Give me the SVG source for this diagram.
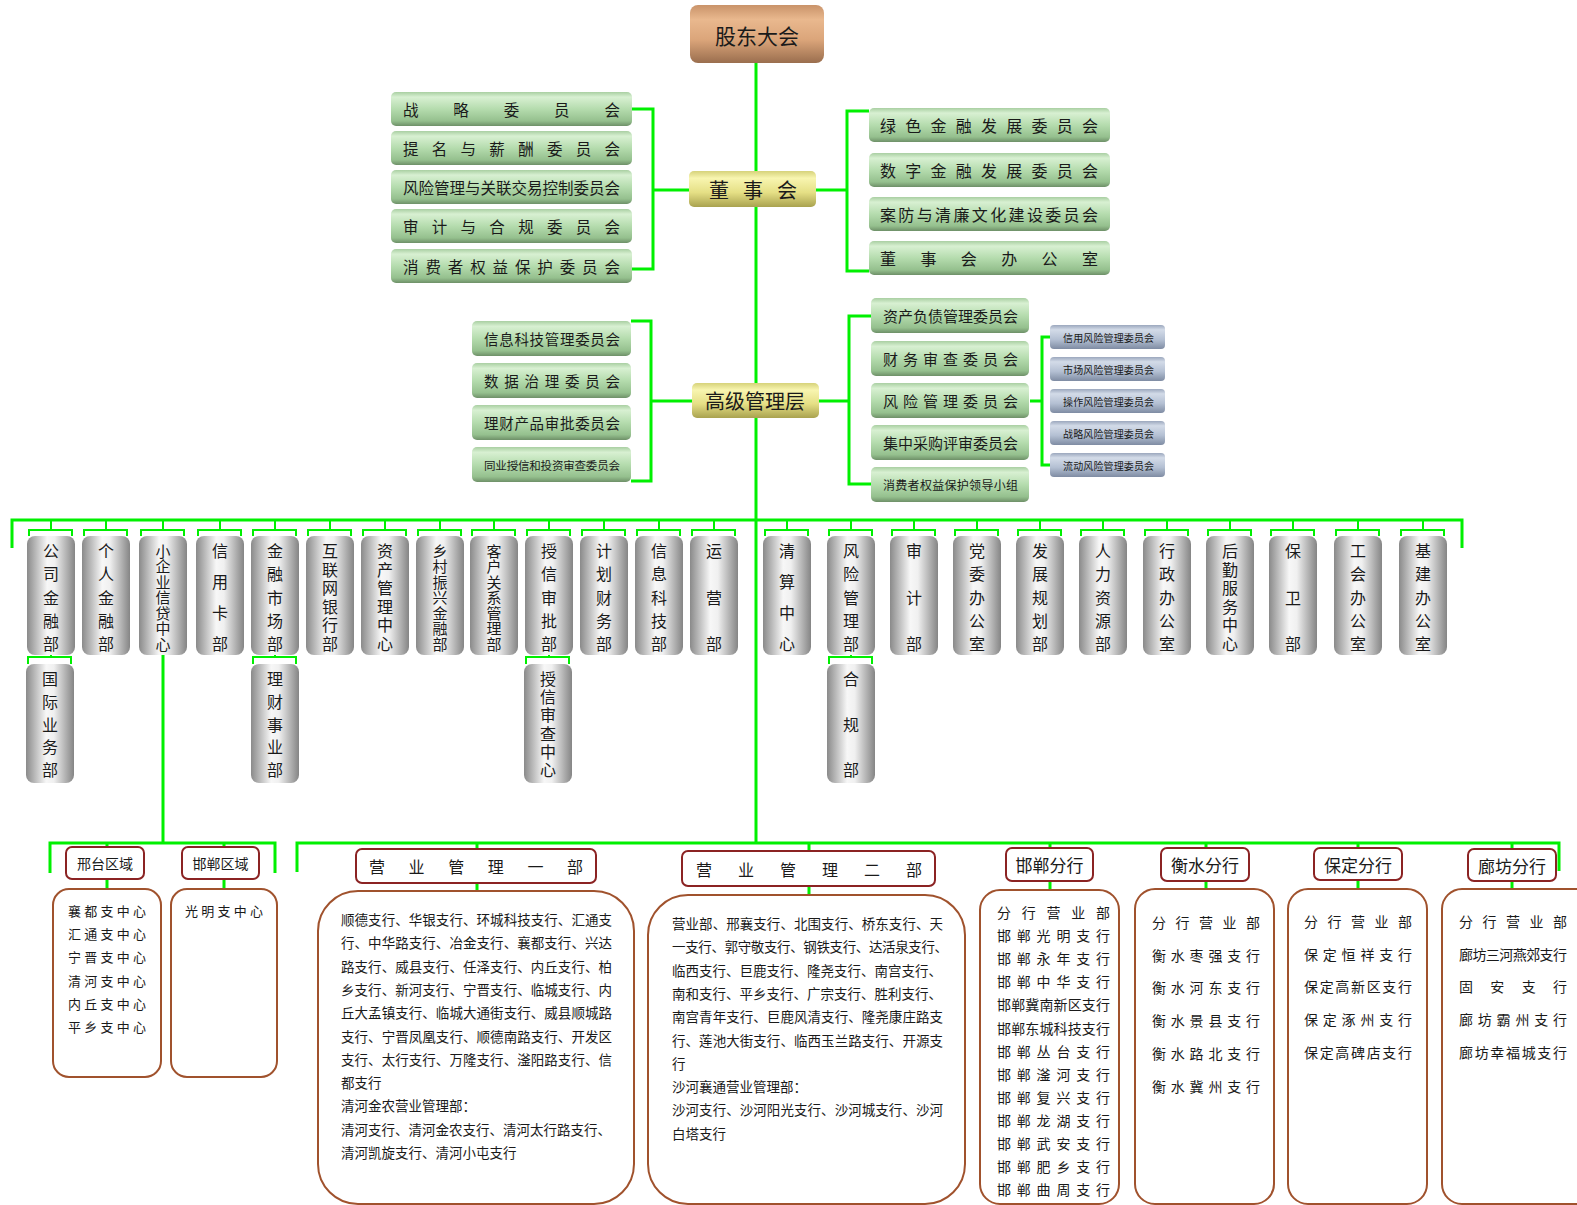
<svg xmlns="http://www.w3.org/2000/svg" width="1577" height="1205" viewBox="0 0 1577 1205">
<defs>
<linearGradient id="gG" x1="0" y1="0" x2="0" y2="1"><stop offset="0" stop-color="#a9cfa2"/><stop offset="0.15" stop-color="#d8f0d2"/><stop offset="0.5" stop-color="#b5dcae"/><stop offset="0.85" stop-color="#95c08e"/><stop offset="1" stop-color="#6e9068"/></linearGradient>
<linearGradient id="gY" x1="0" y1="0" x2="0" y2="1"><stop offset="0" stop-color="#d6d27a"/><stop offset="0.2" stop-color="#f8f5b0"/><stop offset="0.6" stop-color="#e5df85"/><stop offset="1" stop-color="#a9a24f"/></linearGradient>
<linearGradient id="gB" x1="0" y1="0" x2="0" y2="1"><stop offset="0" stop-color="#c9936a"/><stop offset="0.25" stop-color="#e9b88e"/><stop offset="0.6" stop-color="#dba57a"/><stop offset="1" stop-color="#9a6e4e"/></linearGradient>
<linearGradient id="gS" x1="0" y1="0" x2="0" y2="1"><stop offset="0" stop-color="#9ba7bd"/><stop offset="0.2" stop-color="#d3dbe8"/><stop offset="0.6" stop-color="#b4c0d3"/><stop offset="1" stop-color="#7f8ca3"/></linearGradient>
<linearGradient id="gD" x1="0" y1="0" x2="1" y2="0"><stop offset="0" stop-color="#8a8a8a"/><stop offset="0.42" stop-color="#f7f7f7"/><stop offset="0.58" stop-color="#f0f0f0"/><stop offset="1" stop-color="#858585"/></linearGradient>
</defs>
<style>
.ln{stroke:#00f000;stroke-width:3;fill:none}
.lt{stroke:#00f000;stroke-width:2;fill:none}
.t{font-family:"Noto Sans CJK SC","Noto Sans",sans-serif;fill:#1a1a1a;dominant-baseline:central}
.cg{fill:url(#gG)}
.cs{fill:url(#gS)}
.dp{fill:url(#gD)}
.dv{font-size:16px;text-anchor:middle}
.d7{font-size:15px}
.hd{fill:#fff;stroke:#8b2323;stroke-width:2}
.ct{fill:#fff;stroke:#a0522d;stroke-width:2}
.m{text-anchor:middle}
</style>
<g id="connectors">
<path class="ln" d="M756 63V843"/>
<path class="ln" d="M653 190H689M632 109H653V269H632M816 190H847M869 111H847V271H869"/>
<path class="ln" d="M651 401H692M631 321H651V481H631M819 401H849M871 316H849V484H871M1030 401H1042M1050 337H1042V465H1050"/>
<path class="ln" d="M12 548V520H1462V548"/>
<path class="lt" d="M51 520V530M29 536V530H72V536M106 520V530M84 536V530H127V536M163 520V530M141 536V530H184V536M220 520V530M198 536V530H241V536M275 520V530M253 536V530H296V536M330 520V530M308 536V530H351V536M385 520V530M363 536V530H406V536M440 520V530M418 536V530H461V536M494 520V530M472 536V530H515V536M549 520V530M527 536V530H570V536M604 520V530M582 536V530H625V536M659 520V530M637 536V530H680V536M714 520V530M692 536V530H735V536M787 520V530M765 536V530H808V536M851 520V530M829 536V530H872V536M914 520V530M892 536V530H935V536M977 520V530M955 536V530H998V536M1040 520V530M1018 536V530H1061V536M1103 520V530M1081 536V530H1124V536M1167 520V530M1145 536V530H1188V536M1230 520V530M1208 536V530H1251V536M1293 520V530M1271 536V530H1314V536M1358 520V530M1336 536V530H1379V536M1423 520V530M1401 536V530H1444V536"/>
<path class="lt" d="M51 655V657M28 664V657H71V664M275 655V657M253 664V657H296V664M549 655V657M526 664V657H569V664M851 655V657M829 664V657H872V664"/>
<path class="ln" d="M163 655V843M50 873V843H275V873M107 843V847M224 843V847M107 879V889M224 879V889"/>
<path class="ln" d="M297 872V843H1559V871M477 843V849M477 883V891M809 843V851M809 886V895M1050 843V848M1050 881V890M1206 843V848M1206 881V889M1358 843V848M1358 880V889M1512 843V849M1512 881V889"/>
</g>
<g id="n-gudong"><rect x="690" y="5" width="134" height="58" rx="8" fill="url(#gB)"/><text class="t m" x="757" y="35" font-size="21">股东大会</text></g>
<g id="n-dongshihui"><rect x="689" y="171" width="127" height="36" rx="5" fill="url(#gY)"/><text class="t" x="709" y="189" font-size="20" textLength="88" lengthAdjust="spacing">董事会</text></g>
<g id="n-gaoguan"><rect x="692" y="383" width="127" height="35" rx="5" fill="url(#gY)"/><text class="t m" x="755" y="400" font-size="20">高级管理层</text></g>
<g id="board-left" font-size="15.5">
<g id="c1"><rect class="cg" x="391" y="92" width="241" height="34" rx="5"/><text class="t" x="403" y="109" textLength="217" lengthAdjust="spacing">战略委员会</text></g>
<g id="c2"><rect class="cg" x="391" y="131" width="241" height="34" rx="5"/><text class="t" x="403" y="148" textLength="217" lengthAdjust="spacing">提名与薪酬委员会</text></g>
<g id="c3"><rect class="cg" x="391" y="170" width="241" height="34" rx="5"/><text class="t" x="403" y="187" textLength="217" lengthAdjust="spacing">风险管理与关联交易控制委员会</text></g>
<g id="c4"><rect class="cg" x="391" y="209" width="241" height="34" rx="5"/><text class="t" x="403" y="226" textLength="217" lengthAdjust="spacing">审计与合规委员会</text></g>
<g id="c5"><rect class="cg" x="391" y="249" width="241" height="34" rx="5"/><text class="t" x="403" y="266" textLength="217" lengthAdjust="spacing">消费者权益保护委员会</text></g>
</g>
<g id="board-right" font-size="16">
<g id="c6"><rect class="cg" x="869" y="108" width="241" height="34" rx="5"/><text class="t" x="880" y="125" textLength="218" lengthAdjust="spacing">绿色金融发展委员会</text></g>
<g id="c7"><rect class="cg" x="869" y="153" width="241" height="34" rx="5"/><text class="t" x="880" y="170" textLength="218" lengthAdjust="spacing">数字金融发展委员会</text></g>
<g id="c8"><rect class="cg" x="869" y="197" width="241" height="34" rx="5"/><text class="t" x="880" y="214" textLength="218" lengthAdjust="spacing">案防与清廉文化建设委员会</text></g>
<g id="c9"><rect class="cg" x="869" y="241" width="241" height="34" rx="5"/><text class="t" x="880" y="258" textLength="218" lengthAdjust="spacing">董事会办公室</text></g>
</g>
<g id="mgmt-left">
<g id="m1"><rect class="cg" x="472" y="321" width="159" height="35" rx="5"/><text class="t" x="484" y="338.5" font-size="14.5" textLength="136" lengthAdjust="spacing">信息科技管理委员会</text></g>
<g id="m2"><rect class="cg" x="472" y="363" width="159" height="35" rx="5"/><text class="t" x="484" y="380.5" font-size="14.5" textLength="136" lengthAdjust="spacing">数据治理委员会</text></g>
<g id="m3"><rect class="cg" x="472" y="405" width="159" height="35" rx="5"/><text class="t" x="484" y="422.5" font-size="14.5" textLength="136" lengthAdjust="spacing">理财产品审批委员会</text></g>
<g id="m4"><rect class="cg" x="472" y="447" width="159" height="35" rx="5"/><text class="t" x="484" y="464.5" font-size="11.5" textLength="136" lengthAdjust="spacing">同业授信和投资审查委员会</text></g>
</g>
<g id="mgmt-right">
<g id="m5"><rect class="cg" x="871" y="298" width="158" height="35" rx="5"/><text class="t" x="883" y="315.5" font-size="15" textLength="135" lengthAdjust="spacing">资产负债管理委员会</text></g>
<g id="m6"><rect class="cg" x="871" y="341" width="158" height="35" rx="5"/><text class="t" x="883" y="358.5" font-size="15" textLength="135" lengthAdjust="spacing">财务审查委员会</text></g>
<g id="m7"><rect class="cg" x="871" y="383" width="158" height="35" rx="5"/><text class="t" x="883" y="400.5" font-size="15" textLength="135" lengthAdjust="spacing">风险管理委员会</text></g>
<g id="m8"><rect class="cg" x="871" y="425" width="158" height="35" rx="5"/><text class="t" x="883" y="442.5" font-size="15" textLength="135" lengthAdjust="spacing">集中采购评审委员会</text></g>
<g id="m9"><rect class="cg" x="871" y="467" width="158" height="35" rx="5"/><text class="t" x="883" y="484.5" font-size="12" textLength="135" lengthAdjust="spacing">消费者权益保护领导小组</text></g>
</g>
<g id="risk-sub" font-size="10">
<g id="r1"><rect class="cs" x="1050" y="325" width="115" height="24" rx="4"/><text class="t" x="1063" y="337" textLength="91" lengthAdjust="spacing">信用风险管理委员会</text></g>
<g id="r2"><rect class="cs" x="1050" y="357" width="115" height="24" rx="4"/><text class="t" x="1063" y="369" textLength="91" lengthAdjust="spacing">市场风险管理委员会</text></g>
<g id="r3"><rect class="cs" x="1050" y="389" width="115" height="24" rx="4"/><text class="t" x="1063" y="401" textLength="91" lengthAdjust="spacing">操作风险管理委员会</text></g>
<g id="r4"><rect class="cs" x="1050" y="421" width="115" height="24" rx="4"/><text class="t" x="1063" y="433" textLength="91" lengthAdjust="spacing">战略风险管理委员会</text></g>
<g id="r5"><rect class="cs" x="1050" y="453" width="115" height="24" rx="4"/><text class="t" x="1063" y="465" textLength="91" lengthAdjust="spacing">流动风险管理委员会</text></g>
</g>
<g id="departments">
<g id="d1"><rect class="dp" x="27" y="536" width="48" height="119" rx="8"/><text class="t dv" x="51 51 51 51 51" y="550 573.25 596.5 619.75 643">公司金融部</text></g>
<g id="d2"><rect class="dp" x="82" y="536" width="48" height="119" rx="8"/><text class="t dv" x="106 106 106 106 106" y="550 573.25 596.5 619.75 643">个人金融部</text></g>
<g id="d3"><rect class="dp" x="139" y="536" width="48" height="119" rx="8"/><text class="t dv d7" x="163 163 163 163 163 163 163" y="550 565.5 581 596.5 612 627.5 643">小企业信贷中心</text></g>
<g id="d4"><rect class="dp" x="196" y="536" width="48" height="119" rx="8"/><text class="t dv" x="220 220 220 220" y="550 581 612 643">信用卡部</text></g>
<g id="d5"><rect class="dp" x="251" y="536" width="48" height="119" rx="8"/><text class="t dv" x="275 275 275 275 275" y="550 573.25 596.5 619.75 643">金融市场部</text></g>
<g id="d6"><rect class="dp" x="306" y="536" width="48" height="119" rx="8"/><text class="t dv" x="330 330 330 330 330 330" y="550 568.6 587.2 605.8 624.4 643">互联网银行部</text></g>
<g id="d7"><rect class="dp" x="361" y="536" width="48" height="119" rx="8"/><text class="t dv" x="385 385 385 385 385 385" y="550 568.6 587.2 605.8 624.4 643">资产管理中心</text></g>
<g id="d8"><rect class="dp" x="416" y="536" width="48" height="119" rx="8"/><text class="t dv d7" x="440 440 440 440 440 440 440" y="550 565.5 581 596.5 612 627.5 643">乡村振兴金融部</text></g>
<g id="d9"><rect class="dp" x="470" y="536" width="48" height="119" rx="8"/><text class="t dv d7" x="494 494 494 494 494 494 494" y="550 565.5 581 596.5 612 627.5 643">客户关系管理部</text></g>
<g id="d10"><rect class="dp" x="525" y="536" width="48" height="119" rx="8"/><text class="t dv" x="549 549 549 549 549" y="550 573.25 596.5 619.75 643">授信审批部</text></g>
<g id="d11"><rect class="dp" x="580" y="536" width="48" height="119" rx="8"/><text class="t dv" x="604 604 604 604 604" y="550 573.25 596.5 619.75 643">计划财务部</text></g>
<g id="d12"><rect class="dp" x="635" y="536" width="48" height="119" rx="8"/><text class="t dv" x="659 659 659 659 659" y="550 573.25 596.5 619.75 643">信息科技部</text></g>
<g id="d13"><rect class="dp" x="690" y="536" width="48" height="119" rx="8"/><text class="t dv" x="714 714 714" y="550 596.5 643">运营部</text></g>
<g id="d14"><rect class="dp" x="763" y="536" width="48" height="119" rx="8"/><text class="t dv" x="787 787 787 787" y="550 581 612 643">清算中心</text></g>
<g id="d15"><rect class="dp" x="827" y="536" width="48" height="119" rx="8"/><text class="t dv" x="851 851 851 851 851" y="550 573.25 596.5 619.75 643">风险管理部</text></g>
<g id="d16"><rect class="dp" x="890" y="536" width="48" height="119" rx="8"/><text class="t dv" x="914 914 914" y="550 596.5 643">审计部</text></g>
<g id="d17"><rect class="dp" x="953" y="536" width="48" height="119" rx="8"/><text class="t dv" x="977 977 977 977 977" y="550 573.25 596.5 619.75 643">党委办公室</text></g>
<g id="d18"><rect class="dp" x="1016" y="536" width="48" height="119" rx="8"/><text class="t dv" x="1040 1040 1040 1040 1040" y="550 573.25 596.5 619.75 643">发展规划部</text></g>
<g id="d19"><rect class="dp" x="1079" y="536" width="48" height="119" rx="8"/><text class="t dv" x="1103 1103 1103 1103 1103" y="550 573.25 596.5 619.75 643">人力资源部</text></g>
<g id="d20"><rect class="dp" x="1143" y="536" width="48" height="119" rx="8"/><text class="t dv" x="1167 1167 1167 1167 1167" y="550 573.25 596.5 619.75 643">行政办公室</text></g>
<g id="d21"><rect class="dp" x="1206" y="536" width="48" height="119" rx="8"/><text class="t dv" x="1230 1230 1230 1230 1230 1230" y="550 568.6 587.2 605.8 624.4 643">后勤服务中心</text></g>
<g id="d22"><rect class="dp" x="1269" y="536" width="48" height="119" rx="8"/><text class="t dv" x="1293 1293 1293" y="550 596.5 643">保卫部</text></g>
<g id="d23"><rect class="dp" x="1334" y="536" width="48" height="119" rx="8"/><text class="t dv" x="1358 1358 1358 1358 1358" y="550 573.25 596.5 619.75 643">工会办公室</text></g>
<g id="d24"><rect class="dp" x="1399" y="536" width="48" height="119" rx="8"/><text class="t dv" x="1423 1423 1423 1423 1423" y="550 573.25 596.5 619.75 643">基建办公室</text></g>
<g id="s1"><rect class="dp" x="26" y="664" width="48" height="119" rx="8"/><text class="t dv" x="50 50 50 50 50" y="678 700.75 723.5 746.25 769">国际业务部</text></g>
<g id="s2"><rect class="dp" x="251" y="664" width="48" height="119" rx="8"/><text class="t dv" x="275 275 275 275 275" y="678 700.75 723.5 746.25 769">理财事业部</text></g>
<g id="s3"><rect class="dp" x="524" y="664" width="48" height="119" rx="8"/><text class="t dv" x="548 548 548 548 548 548" y="678 696.2 714.4 732.6 750.8 769">授信审查中心</text></g>
<g id="s4"><rect class="dp" x="827" y="664" width="48" height="119" rx="8"/><text class="t dv" x="851 851 851" y="678 723.5 769">合规部</text></g>
</g>
<g id="xingtai">
<rect class="hd" x="66" y="847" width="78" height="32" rx="6"/><text class="t m" x="105" y="863" font-size="14">邢台区域</text>
<rect class="ct" x="53" y="889" width="108" height="188" rx="16"/>
<g font-size="13"><text class="t" x="68" y="910" textLength="78" lengthAdjust="spacing">襄都支中心</text><text class="t" x="68" y="933" textLength="78" lengthAdjust="spacing">汇通支中心</text><text class="t" x="68" y="956" textLength="78" lengthAdjust="spacing">宁晋支中心</text><text class="t" x="68" y="980" textLength="78" lengthAdjust="spacing">清河支中心</text><text class="t" x="68" y="1003" textLength="78" lengthAdjust="spacing">内丘支中心</text><text class="t" x="68" y="1026" textLength="78" lengthAdjust="spacing">平乡支中心</text></g>
</g>
<g id="handan-area">
<rect class="hd" x="182" y="847" width="77" height="32" rx="6"/><text class="t m" x="220.5" y="863" font-size="14">邯郸区域</text>
<rect class="ct" x="171" y="889" width="106" height="188" rx="16"/>
<text class="t" x="185" y="910" font-size="13" textLength="78" lengthAdjust="spacing">光明支中心</text>
</g>
<g id="yingye1">
<rect class="hd" x="356" y="849" width="240" height="34" rx="6"/><text class="t" x="369" y="866" font-size="16" textLength="214" lengthAdjust="spacing">营业管理一部</text>
<rect class="ct" x="318" y="891" width="316" height="313" rx="40"/>
<g font-size="13.5">
<text class="t" x="341" y="919" textLength="271" lengthAdjust="spacing">顺德支行、华银支行、环城科技支行、汇通支</text>
<text class="t" x="341" y="942.3" textLength="271" lengthAdjust="spacing">行、中华路支行、冶金支行、襄都支行、兴达</text>
<text class="t" x="341" y="965.6" textLength="271" lengthAdjust="spacing">路支行、威县支行、任泽支行、内丘支行、柏</text>
<text class="t" x="341" y="988.9" textLength="271" lengthAdjust="spacing">乡支行、新河支行、宁晋支行、临城支行、内</text>
<text class="t" x="341" y="1012.2" textLength="271" lengthAdjust="spacing">丘大孟镇支行、临城大通街支行、威县顺城路</text>
<text class="t" x="341" y="1035.5" textLength="271" lengthAdjust="spacing">支行、宁晋凤凰支行、顺德南路支行、开发区</text>
<text class="t" x="341" y="1058.8" textLength="271" lengthAdjust="spacing">支行、太行支行、万隆支行、滏阳路支行、信</text>
<text class="t" x="341" y="1082.1">都支行</text>
<text class="t" x="341" y="1105.4">清河金农营业管理部：</text>
<text class="t" x="341" y="1128.7">清河支行、清河金农支行、清河太行路支行、</text>
<text class="t" x="341" y="1152">清河凯旋支行、清河小屯支行</text>
</g>
</g>
<g id="yingye2">
<rect class="hd" x="682" y="851" width="253" height="35" rx="6"/><text class="t" x="696" y="868.5" font-size="16" textLength="226" lengthAdjust="spacing">营业管理二部</text>
<rect class="ct" x="648" y="895" width="317" height="309" rx="40"/>
<g font-size="13.5">
<text class="t" x="672" y="923" textLength="271" lengthAdjust="spacing">营业部、邢襄支行、北围支行、桥东支行、天</text>
<text class="t" x="672" y="946.3" textLength="276" lengthAdjust="spacing">一支行、郭守敬支行、钢铁支行、达活泉支行、</text>
<text class="t" x="672" y="969.6">临西支行、巨鹿支行、隆尧支行、南宫支行、</text>
<text class="t" x="672" y="992.9">南和支行、平乡支行、广宗支行、胜利支行、</text>
<text class="t" x="672" y="1016.2" textLength="271" lengthAdjust="spacing">南宫青年支行、巨鹿风清支行、隆尧康庄路支</text>
<text class="t" x="672" y="1039.5" textLength="271" lengthAdjust="spacing">行、莲池大街支行、临西玉兰路支行、开源支</text>
<text class="t" x="672" y="1062.8">行</text>
<text class="t" x="672" y="1086.1">沙河襄通营业管理部：</text>
<text class="t" x="672" y="1109.4" textLength="271" lengthAdjust="spacing">沙河支行、沙河阳光支行、沙河城支行、沙河</text>
<text class="t" x="672" y="1132.7">白塔支行</text>
</g>
</g>
<g id="handan">
<rect class="hd" x="1006" y="848" width="87" height="33" rx="6"/><text class="t m" x="1049.5" y="864.5" font-size="17">邯郸分行</text>
<rect class="ct" x="980" y="890" width="139" height="314" rx="20"/>
<g font-size="14">
<text class="t" x="997" y="912" textLength="113" lengthAdjust="spacing">分行营业部</text>
<text class="t" x="997" y="935.1" textLength="113" lengthAdjust="spacing">邯郸光明支行</text>
<text class="t" x="997" y="958.2" textLength="113" lengthAdjust="spacing">邯郸永年支行</text>
<text class="t" x="997" y="981.3" textLength="113" lengthAdjust="spacing">邯郸中华支行</text>
<text class="t" x="997" y="1004.4" textLength="113" lengthAdjust="spacing">邯郸冀南新区支行</text>
<text class="t" x="997" y="1027.5" textLength="113" lengthAdjust="spacing">邯郸东城科技支行</text>
<text class="t" x="997" y="1050.6" textLength="113" lengthAdjust="spacing">邯郸丛台支行</text>
<text class="t" x="997" y="1073.7" textLength="113" lengthAdjust="spacing">邯郸滏河支行</text>
<text class="t" x="997" y="1096.8" textLength="113" lengthAdjust="spacing">邯郸复兴支行</text>
<text class="t" x="997" y="1119.9" textLength="113" lengthAdjust="spacing">邯郸龙湖支行</text>
<text class="t" x="997" y="1143" textLength="113" lengthAdjust="spacing">邯郸武安支行</text>
<text class="t" x="997" y="1166.1" textLength="113" lengthAdjust="spacing">邯郸肥乡支行</text>
<text class="t" x="997" y="1189.2" textLength="113" lengthAdjust="spacing">邯郸曲周支行</text>
</g>
</g>
<g id="hengshui">
<rect class="hd" x="1161" y="848" width="88" height="33" rx="6"/><text class="t m" x="1205" y="864.5" font-size="17">衡水分行</text>
<rect class="ct" x="1135" y="889" width="139" height="315" rx="20"/>
<g font-size="14">
<text class="t" x="1152" y="922" textLength="108" lengthAdjust="spacing">分行营业部</text>
<text class="t" x="1152" y="954.7" textLength="108" lengthAdjust="spacing">衡水枣强支行</text>
<text class="t" x="1152" y="987.4" textLength="108" lengthAdjust="spacing">衡水河东支行</text>
<text class="t" x="1152" y="1020.1" textLength="108" lengthAdjust="spacing">衡水景县支行</text>
<text class="t" x="1152" y="1052.8" textLength="108" lengthAdjust="spacing">衡水路北支行</text>
<text class="t" x="1152" y="1085.5" textLength="108" lengthAdjust="spacing">衡水冀州支行</text>
</g>
</g>
<g id="baoding">
<rect class="hd" x="1314" y="848" width="88" height="32" rx="6"/><text class="t m" x="1358" y="864" font-size="17">保定分行</text>
<rect class="ct" x="1288" y="889" width="139" height="315" rx="20"/>
<g font-size="14">
<text class="t" x="1304" y="921" textLength="108" lengthAdjust="spacing">分行营业部</text>
<text class="t" x="1304" y="953.7" textLength="108" lengthAdjust="spacing">保定恒祥支行</text>
<text class="t" x="1304" y="986.4" textLength="108" lengthAdjust="spacing">保定高新区支行</text>
<text class="t" x="1304" y="1019.1" textLength="108" lengthAdjust="spacing">保定涿州支行</text>
<text class="t" x="1304" y="1051.8" textLength="108" lengthAdjust="spacing">保定高碑店支行</text>
</g>
</g>
<g id="langfang">
<rect class="hd" x="1468" y="849" width="88" height="32" rx="6"/><text class="t m" x="1512" y="865" font-size="17">廊坊分行</text>
<rect class="ct" x="1442" y="889" width="160" height="315" rx="20"/>
<g font-size="14">
<text class="t" x="1459" y="921" textLength="108" lengthAdjust="spacing">分行营业部</text>
<text class="t" x="1459" y="953.7" textLength="108" lengthAdjust="spacing">廊坊三河燕郊支行</text>
<text class="t" x="1459" y="986.4" textLength="108" lengthAdjust="spacing">固安支行</text>
<text class="t" x="1459" y="1019.1" textLength="108" lengthAdjust="spacing">廊坊霸州支行</text>
<text class="t" x="1459" y="1051.8" textLength="108" lengthAdjust="spacing">廊坊幸福城支行</text>
</g>
</g>
</svg>
